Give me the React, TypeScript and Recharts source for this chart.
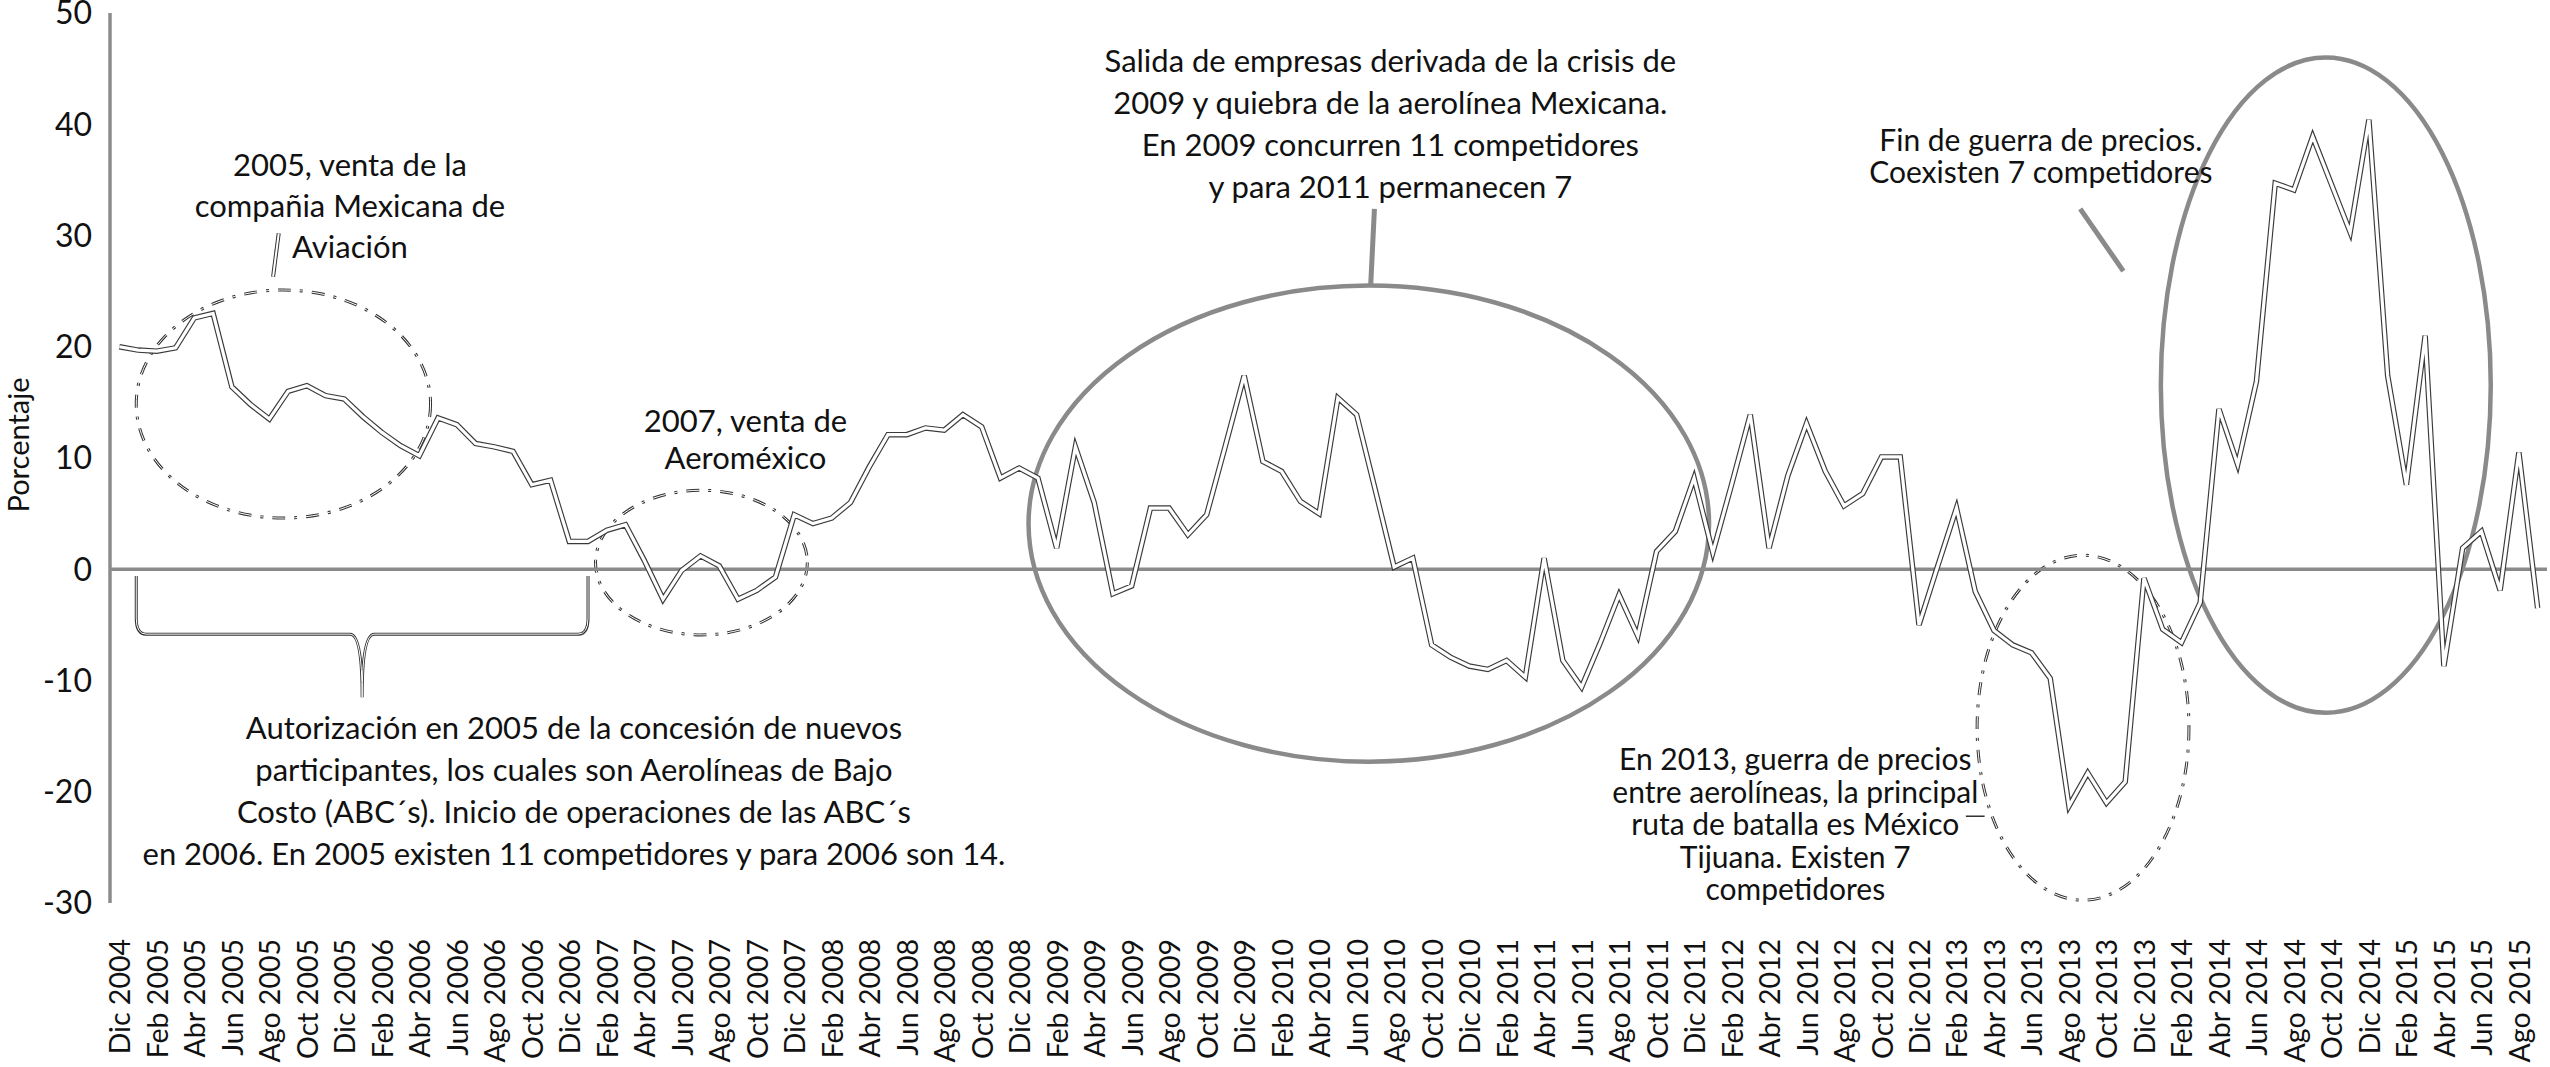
import React from "react";
import {
  LineChart,
  Line,
  XAxis,
  YAxis,
  ReferenceLine,
  ReferenceArea,
  ReferenceDot,
} from "recharts";

const FONT = "Lato, 'Open Sans', sans-serif";

// month names used on the x axis (Spanish)
const monthNames = ["Ene", "Feb", "Mar", "Abr", "May", "Jun", "Jul", "Ago", "Sep", "Oct", "Nov", "Dic"];

// monthly series, Dic 2004 .. Sep 2015
const values2005 = [20.0, 19.7, 19.6, 19.9, 22.6, 23.0, 16.4, 14.8, 13.5, 16.0, 16.5, 15.6, 15.3]; // Dic 2004 - Dic 2005
const values2006 = [13.7, 12.3, 11.1, 10.2, 13.6, 13.0, 11.3, 11.0, 10.6, 7.6, 8.0, 2.5];
const values2007 = [2.5, 3.5, 4.0, 0.8, -2.7, -0.1, 1.2, 0.3, -2.7, -1.9, -0.7, 4.9];
const values2008 = [4.1, 4.6, 6.0, 9.2, 12.1, 12.1, 12.7, 12.5, 13.9, 12.8, 8.2, 9.1];
const values2009 = [8.2, 1.9, 11.0, 6.0, -2.2, -1.5, 5.5, 5.5, 3.1, 4.9, 11.1, 17.4];
const values2010 = [9.7, 8.8, 6.1, 5.0, 15.4, 13.9, 7.1, 0.2, 1.0, -6.8, -7.9, -8.7];
const values2011 = [-9.0, -8.2, -9.7, 1.0, -8.2, -10.6, -6.6, -2.3, -6.0, 1.6, 3.4, 8.2];
const values2012 = [1.5, 7.6, 13.9, 1.9, 8.4, 13.1, 8.8, 5.7, 6.8, 10.1, 10.1, -5.0];
const values2013 = [0.3, 5.5, -2.0, -5.5, -6.8, -7.5, -9.8, -21.3, -18.3, -21.0, -19.1, -0.8];
const values2014 = [-5.4, -6.6, -3.0, 14.4, 9.4, 16.9, 34.7, 34.1, 38.9, 34.6, 30.3, 40.4];
const values2015 = [17.4, 7.6, 21.0, -8.7, 1.9, 3.4, -1.9, 10.5, -3.5];

const values = [
  ...values2005, ...values2006, ...values2007, ...values2008, ...values2009, ...values2010,
  ...values2011, ...values2012, ...values2013, ...values2014, ...values2015,
];

const categories = values.map((_, i) => `${monthNames[(i + 11) % 12]} ${2004 + Math.floor((i + 11) / 12)}`);
const tickIdx = categories.map((_, i) => i).filter((i) => i % 2 === 0);
const yTicks = [-30, -20, -10, 0, 10, 20, 30, 40, 50];

const data = values.map((v, i) => ({ i, v }));

// annotation texts
const note2005 = ["2005, venta de la", "compañia Mexicana de", "Aviación"];
const noteABC = [
  "Autorización en 2005 de la concesión de nuevos",
  "participantes, los cuales son Aerolíneas de Bajo",
  "Costo (ABC´s). Inicio de operaciones de las ABC´s",
  "en 2006. En 2005 existen 11 competidores y para 2006 son 14.",
];
const note2007 = ["2007, venta de", "Aeroméxico"];
const noteCrisis = [
  "Salida de empresas derivada de la crisis de",
  "2009 y quiebra de la aerolínea Mexicana.",
  "En 2009 concurren 11 competidores",
  "y para 2011 permanecen 7",
];
const note2013 = [
  "En 2013, guerra de precios",
  "entre aerolíneas, la principal",
  "ruta de batalla es México",
  "Tijuana. Existen 7",
  "competidores",
];
const noteFin = ["Fin de guerra de precios.", "Coexisten 7 competidores"];

const XTick = (props: any) => {
  const { x, y, payload } = props;
  const ty = y + 36;
  return (
    <text
      x={x}
      y={ty}
      transform={`rotate(-90, ${x}, ${ty})`}
      textAnchor="end"
      dominantBaseline="central"
      fontFamily={FONT}
      fontSize={28.5}
      fill="#111"
    >
      {categories[payload.value]}
    </text>
  );
};

const YLabel = (props: any) => {
  const vb = props.viewBox || { x: 0, y: 0, height: 0 };
  const cx = vb.x + 17;
  const cy = vb.y + vb.height / 2 - 13;
  return (
    <text
      x={cx}
      y={cy}
      transform={`rotate(-90, ${cx}, ${cy})`}
      textAnchor="middle"
      dominantBaseline="central"
      fontFamily={FONT}
      fontSize={29}
      fill="#111"
    >
      Porcentaje
    </text>
  );
};

const note = (lines: string[], gap: number, size = 31) => (p: any) => (
  <text
    x={p.cx}
    y={p.cy}
    textAnchor="middle"
    dominantBaseline="central"
    fontFamily={FONT}
    fontSize={size}
    fill="#111"
  >
    {lines.map((l, j) => (
      <tspan key={j} x={p.cx} dy={j === 0 ? 0 : gap}>
        {l}
      </tspan>
    ))}
  </text>
);

const solidEllipse = (p: any) => (
  <ellipse
    cx={p.x + p.width / 2}
    cy={p.y + p.height / 2}
    rx={p.width / 2}
    ry={p.height / 2}
    fill="none"
    stroke="#8a8a8a"
    strokeWidth={4.5}
  />
);

const dashEllipse = (p: any) => {
  const cx = p.x + p.width / 2;
  const cy = p.y + p.height / 2;
  return (
    <g>
      <ellipse cx={cx} cy={cy} rx={p.width / 2} ry={p.height / 2} fill="none" stroke="#333" strokeWidth={3} strokeDasharray="13 9 3 9" />
      <ellipse cx={cx} cy={cy} rx={p.width / 2} ry={p.height / 2} fill="none" stroke="#fff" strokeWidth={1} strokeDasharray="13 9 3 9" />
    </g>
  );
};

const brace = (p: any) => {
  const x0 = p.x;
  const x1 = p.x + p.width;
  const xm = p.x + p.width / 2;
  const y0 = p.y;
  const y1 = p.y + p.height;
  const yb = p.y + p.height * 0.48;
  const d = `M ${x0} ${y0} L ${x0} ${yb - 16} Q ${x0} ${yb} ${x0 + 10} ${yb} L ${xm - 12} ${yb} Q ${xm} ${yb} ${xm} ${y1} Q ${xm} ${yb} ${xm + 12} ${yb} L ${x1 - 10} ${yb} Q ${x1} ${yb} ${x1} ${yb - 16} L ${x1} ${y0}`;
  return (
    <g>
      <path d={d} fill="none" stroke="#333" strokeWidth={3} />
      <path d={d} fill="none" stroke="#fff" strokeWidth={1} />
    </g>
  );
};

export default function App() {
  return (
    <div style={{ position: "absolute", left: 0, top: 0, background: "#fff" }}>
      <LineChart width={2550} height={1067} data={data} margin={{ top: 13, right: 3, bottom: 0, left: 0 }}>
        <XAxis
          type="number"
          dataKey="i"
          domain={[-0.5, 129.5]}
          ticks={tickIdx}
          interval={0}
          tickLine={false}
          axisLine={false}
          tickSize={0}
          tickMargin={0}
          height={164}
          tick={<XTick />}
        />
        <YAxis
          type="number"
          domain={[-30, 50]}
          ticks={yTicks}
          interval={0}
          width={110}
          tickLine={false}
          tickSize={0}
          tickMargin={18}
          axisLine={{ stroke: "#8c8c8c", strokeWidth: 3.5 }}
          tick={{ fontFamily: FONT, fontSize: 32, fill: "#111" }}
          label={<YLabel />}
        />
        <ReferenceLine y={0} stroke="#8a8a8a" strokeWidth={3.5} />

        <ReferenceArea x1={0.9} x2={16.6} y1={4.6} y2={25.1} shape={dashEllipse} />
        <ReferenceArea x1={25.4} x2={36.7} y1={-5.9} y2={7.1} shape={dashEllipse} />
        <ReferenceArea x1={99.1} x2={110.4} y1={-29.75} y2={1.26} shape={dashEllipse} />
        <ReferenceArea x1={48.5} x2={84.8} y1={-17.3} y2={25.5} shape={solidEllipse} />
        <ReferenceArea x1={108.9} x2={126.5} y1={-12.9} y2={46.0} shape={solidEllipse} />
        <ReferenceArea x1={0.9} x2={25.0} y1={-11.5} y2={-0.6} shape={brace} />

        <ReferenceLine segment={[{ x: 8.2, y: 26.3 }, { x: 8.5, y: 30.2 }]} stroke="#333" strokeWidth={4} />
        <ReferenceLine segment={[{ x: 8.2, y: 26.3 }, { x: 8.5, y: 30.2 }]} stroke="#fff" strokeWidth={2} />
        <ReferenceLine segment={[{ x: 66.75, y: 25.5 }, { x: 66.95, y: 32.4 }]} stroke="#8a8a8a" strokeWidth={5} />
        <ReferenceLine segment={[{ x: 104.6, y: 32.4 }, { x: 106.9, y: 26.8 }]} stroke="#8a8a8a" strokeWidth={5} />
        <ReferenceLine segment={[{ x: 98.5, y: -22.2 }, { x: 99.5, y: -22.2 }]} stroke="#333" strokeWidth={1.5} />

        <ReferenceDot x={12.3} y={36.4} r={0} shape={note(note2005, 41)} />
        <ReferenceDot x={24.25} y={-14.2} r={0} shape={note(noteABC, 42)} />
        <ReferenceDot x={33.4} y={13.4} r={0} shape={note(note2007, 37)} />
        <ReferenceDot x={67.8} y={45.8} r={0} shape={note(noteCrisis, 42)} />
        <ReferenceDot x={89.4} y={-17.0} r={0} shape={note(note2013, 32.5, 30)} />
        <ReferenceDot x={102.5} y={38.65} r={0} shape={note(noteFin, 32, 30)} />

        <Line type="linear" dataKey="v" stroke="#3a3a3a" strokeWidth={5.5} dot={false} activeDot={false} isAnimationActive={false} />
        <Line type="linear" dataKey="v" stroke="#ffffff" strokeWidth={3.2} dot={false} activeDot={false} isAnimationActive={false} />
      </LineChart>
    </div>
  );
}
